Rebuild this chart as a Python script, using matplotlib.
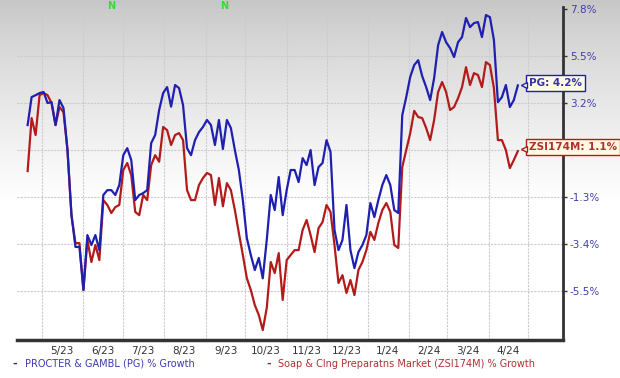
import matplotlib
matplotlib.use('Agg')
import matplotlib.pyplot as plt
import matplotlib.transforms as mtransforms
from matplotlib.colors import LinearSegmentedColormap
import numpy as np
import pandas as pd

# one reading every 3 days, 2023-04-20 .. 2024-04-23
dates = pd.date_range('2023-04-20', periods=124, freq='3D')

pg_growth = [
    2.33, 3.65, 3.74, 3.84, 3.89, 3.37, 3.41, 2.33, 3.51, 3.13,
    1.15, -1.92, -3.42, -3.42, -5.45, -2.86, -3.33, -2.86, -3.57, -0.97,
    -0.74, -0.74, -0.97, -0.50, 0.91, 1.24, 0.68, -1.21, -0.97, -0.88,
    -0.74, 1.48, 1.86, 3.04, 3.84, 4.12, 3.20, 4.22, 4.07, 3.27,
    1.24, 0.91, 1.62, 2.00, 2.24, 2.57, 2.33, 1.39, 2.57, 1.20,
    2.57, 2.19, 1.15, 0.21, -1.21, -3.00, -3.80, -4.51, -3.94, -4.90,
    -3.09, -0.97, -1.68, -0.12, -1.92, -0.74, 0.21, 0.21, -0.36, 0.77,
    0.44, 1.15, -0.50, 0.35, 0.54, 1.62, 1.06, -2.62, -3.57, -3.09,
    -1.44, -3.57, -4.42, -3.66, -3.33, -2.86, -1.35, -2.01, -1.21, -0.50,
    -0.03, -0.50, -1.68, -1.82, 2.80, 3.65, 4.60, 5.16, 5.39, 4.64,
    4.12, 3.51, 4.55, 6.10, 6.72, 6.24, 5.96, 5.54, 6.24, 6.48,
    7.38, 6.95, 7.14, 7.19, 6.48, 7.52, 7.42, 6.34, 3.41, 3.65,
    4.22, 3.18, 3.51, 4.20,
]

zsi_growth = [
    0.16, 2.66, 1.86, 3.74, 3.84, 3.74, 3.37, 2.33, 3.18, 2.94,
    1.15, -1.92, -3.24, -3.24, -5.45, -3.09, -4.13, -3.33, -4.04, -1.21,
    -1.44, -1.82, -1.54, -1.44, 0.21, 0.54, -0.03, -1.77, -1.92, -0.97,
    -1.21, 0.44, 0.91, 0.60, 2.24, 2.09, 1.39, 1.86, 1.95, 1.62,
    -0.74, -1.21, -1.21, -0.50, -0.17, 0.07, -0.03, -1.44, -0.17, -1.50,
    -0.41, -0.74, -1.68, -2.76, -3.80, -4.89, -5.45, -6.16, -6.63, -7.34,
    -6.30, -4.13, -4.65, -3.71, -5.92, -4.04, -3.80, -3.57, -3.57, -2.62,
    -2.15, -2.86, -3.66, -2.53, -2.25, -1.44, -1.77, -3.33, -5.12, -4.75,
    -5.59, -4.98, -5.69, -4.51, -4.13, -3.57, -2.71, -3.09, -2.29, -1.68,
    -1.35, -1.77, -3.33, -3.47, 0.35, 1.15, 1.95, 3.00, 2.71, 2.66,
    2.19, 1.62, 2.57, 3.89, 4.36, 3.89, 3.04, 3.18, 3.60, 4.12,
    5.06, 4.22, 4.78, 4.69, 4.12, 5.30, 5.16, 4.07, 1.62, 1.62,
    1.15, 0.30, 0.68, 1.10,
]

y_tick_labels = ['-5.5%', '-3.4%', '-1.3%', '', '3.2%', '5.5%', '7.8%']
x_tick_labels = ['5/23', '6/23', '7/23', '8/23', '9/23', '10/23', '11/23',
                 '12/23', '1/24', '2/24', '3/24', '4/24']
n_marker_dates = pd.to_datetime(['2023-06-22', '2023-09-15'])

pg_label = 'PG: 4.2%'
zsi_label = 'ZSI174M: 1.1%'
pg_legend = 'PROCTER & GAMBL (PG) % Growth'
zsi_legend = 'Soap & Clng Preparatns Market (ZSI174M) % Growth'

blue = '#1f1fb0'
red = '#b31b1b'

W, H = 620, 378
fig = plt.figure(figsize=(W / 100, H / 100), dpi=100)

# grey-to-white background, smooth fade
bg = fig.add_axes([0, 0, 1, 1], zorder=-5)
rows = np.arange(H)
grad = np.clip(rows / 200.0, 0, 1) ** 0.8
cmap = LinearSegmentedColormap.from_list('bg', ['#c6c6c6', '#ffffff'])
bg.imshow(grad[:, None], aspect='auto', cmap=cmap, extent=[0, 1, 0, 1],
          interpolation='bilinear')
bg.axis('off')

ax = fig.add_axes([17 / W, 1 - 340 / H, (563 - 17) / W, (340 - 7) / H])
ax.set_facecolor('none')

ax.plot(dates, zsi_growth, color=red, lw=1.6, zorder=3)
ax.plot(dates, pg_growth, color=blue, lw=1.6, zorder=4)

ax.set_xlim(pd.Timestamp('2023-04-12'), pd.Timestamp('2024-05-27'))
ax.set_ylim(-7.81, 7.9)

month_starts = pd.date_range('2023-05-01', periods=13, freq='MS')
mid_months = pd.date_range('2023-05-01', periods=12, freq='MS') + pd.Timedelta(days=15)
ax.set_xticks(month_starts)
ax.set_xticklabels([''] * len(month_starts))
ax.set_xticks(mid_months, minor=True)
ax.set_xticklabels(x_tick_labels, minor=True)
ax.tick_params(axis='x', which='both', length=0, labelsize=7.5,
               labelcolor='#333333', pad=4)

ax.yaxis.tick_right()
ax.set_yticks(np.linspace(-5.5, 7.8, 7))
ax.set_yticklabels(y_tick_labels)
ax.tick_params(axis='y', length=3, width=1, color='#333333',
               labelcolor='#4040a8', labelsize=7.5, pad=2)

ax.grid(True, which='major', color='#cccccc', lw=0.8, ls=(0, (2, 1)))

for side in ['left', 'top']:
    ax.spines[side].set_visible(False)
ax.spines['bottom'].set_color('#333333')
ax.spines['bottom'].set_linewidth(2.5)
ax.spines['right'].set_color('#333333')
ax.spines['right'].set_linewidth(2)

# "N" markers along the top
trans = mtransforms.blended_transform_factory(ax.transData, ax.transAxes)
for d in n_marker_dates:
    ax.text(d, 1.003, 'N', transform=trans, color='#33dd33', fontsize=7,
            fontweight='bold', ha='center', va='center', clip_on=False)


# end-value labels with a small pointer on the left
def end_label(text, y, dy, edge, txt_color):
    ax.annotate(text, xy=(dates[-1], y), xytext=(8, dy),
                textcoords='offset points', ha='left', va='center',
                fontsize=7.5, fontweight='bold', color=txt_color, zorder=6,
                annotation_clip=False,
                bbox=dict(boxstyle='square,pad=0.3', fc='#fffbe3', ec=edge, lw=1))
    tip = mtransforms.offset_copy(ax.transData, fig=fig, x=4.2, y=dy - 1.5,
                                  units='points')
    ax.plot([dates[-1]], [y], marker='<', ms=5, mfc='#fffbe3', mec=edge,
            mew=1, transform=tip, zorder=7, clip_on=False)


end_label(pg_label, pg_growth[-1], 2, blue, '#3333aa')
end_label(zsi_label, zsi_growth[-1], 3, red, '#b03030')

# legend at the bottom
ly = 1 - 364 / H
fig.text(12 / W, ly, '-', color=blue, fontsize=8, fontweight='bold', va='center')
fig.text(25 / W, ly, pg_legend, color='#3a3ab0', fontsize=7, va='center')
fig.text(266 / W, ly, '-', color=red, fontsize=8, fontweight='bold', va='center')
fig.text(278 / W, ly, zsi_legend, color='#b03030', fontsize=7, va='center')

fig.savefig('out.png', dpi=100)
